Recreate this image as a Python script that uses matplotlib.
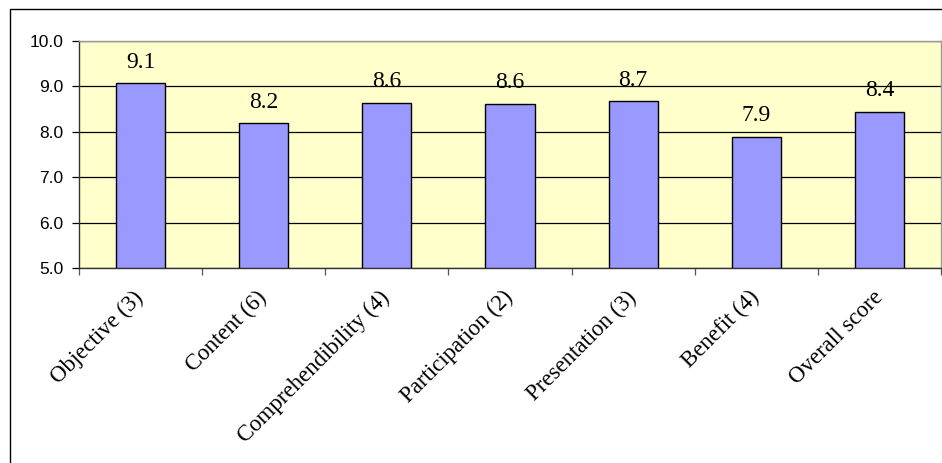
import matplotlib
matplotlib.use('Agg')
import matplotlib.pyplot as plt
import numpy as np
from matplotlib.patches import Rectangle
from matplotlib.ticker import FixedLocator, FormatStrFormatter

categories = ['Objective (3)', 'Content (6)', 'Comprehendibility (4)', 'Participation (2)',
			  'Presentation (3)', 'Benefit (4)', 'Overall score']
scores = [9.07, 8.19, 8.64, 8.62, 8.68, 7.89, 8.44]
y_ticks = [5.0, 6.0, 7.0, 8.0, 9.0, 10.0]

W, H = 942, 463
fig = plt.figure(figsize=(W / 100, H / 100), dpi=100)

# outer chart frame (only left and top edges fall inside the image)
fig.patches.append(Rectangle((10 / W, -0.2), 2.0, 1.2 - 9 / H, transform=fig.transFigure,
							 fill=False, edgecolor='black', linewidth=1.0, clip_on=False))

ax = fig.add_axes([79 / W, 1 - 268 / H, (941 - 79) / W, (268 - 41) / H])
ax.set_facecolor('#ffffcc')

x = np.arange(len(categories))
ax.bar(x, [s - 5.0 for s in scores], bottom=5.0, width=0.4, color='#9999ff',
	   edgecolor='black', linewidth=1.0, zorder=3)

for xi, s in zip(x, scores):
	ax.annotate('%.1f' % s, (xi, s), xytext=(0, 15), textcoords='offset points',
				ha='center', va='center', fontsize=17, family='Liberation Serif',
				color='black', zorder=4)

ax.set_xlim(-0.5, len(categories) - 0.5)
ax.set_ylim(5.0, 10.0)
ax.set_yticks(y_ticks)
ax.yaxis.set_major_formatter(FormatStrFormatter('%.1f'))
ax.yaxis.grid(True, color='black', linewidth=0.9, zorder=1)
ax.set_axisbelow(True)

ax.set_xticks(x)
ax.set_xticklabels(categories, rotation=45, ha='right', va='center',
				   rotation_mode='anchor', fontsize=16.5, family='Liberation Serif')
ax.xaxis.set_minor_locator(FixedLocator(np.arange(-0.5, len(categories), 1.0)))
ax.tick_params(axis='x', which='major', length=0, pad=19)
ax.tick_params(axis='x', which='minor', length=5, direction='out', width=0.9, color='#555555')
ax.tick_params(axis='y', length=5, direction='out', width=0.9, pad=6, labelsize=12.5)
for lab in ax.get_yticklabels():
	lab.set_family('Liberation Sans')

for side in ['top', 'right']:
	ax.spines[side].set_color('#999999')
	ax.spines[side].set_linewidth(1.0)
for side in ['left', 'bottom']:
	ax.spines[side].set_color('#333333')
	ax.spines[side].set_linewidth(1.0)

fig.savefig('out.png', dpi=100)
